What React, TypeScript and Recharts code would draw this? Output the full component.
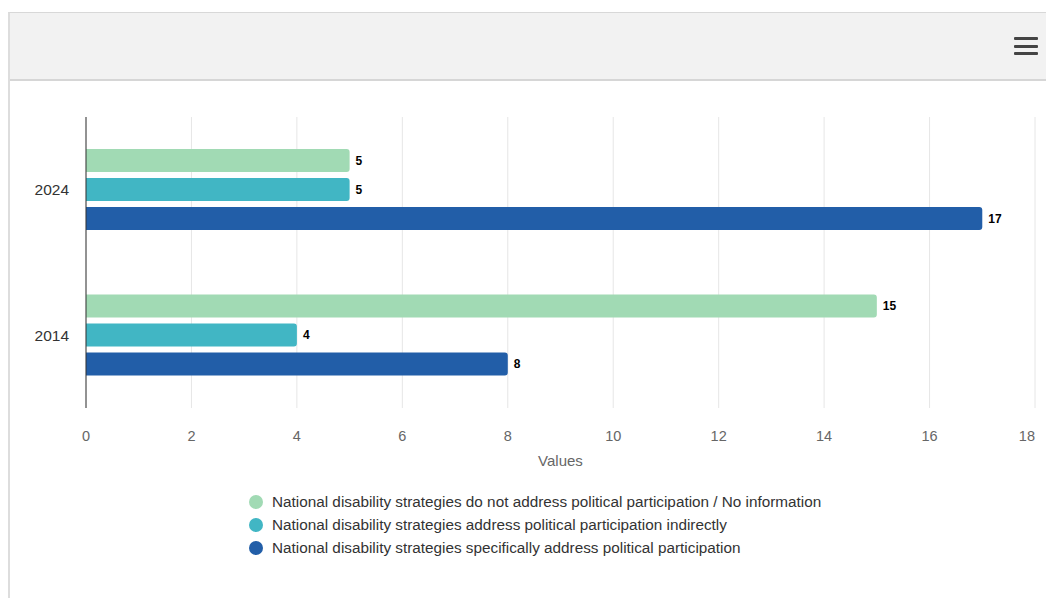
import { Bar, BarChart, CartesianGrid, LabelList, XAxis, YAxis } from "recharts";

const years = ["2024", "2014"];
const noInfo = [5, 15];
const indirect = [5, 4];
const specific = [17, 8];
const xTicks = [0, 2, 4, 6, 8, 10, 12, 14, 16, 18];

const seriesNames = [
  "National disability strategies do not address political participation / No information",
  "National disability strategies address political participation indirectly",
  "National disability strategies specifically address political participation",
];
const seriesKeys = ["noInfo", "indirect", "specific"];
const seriesColors = ["#a1dab4", "#41b6c4", "#225ea8"];

const data = years.map((year, i) => ({
  year,
  noInfo: noInfo[i],
  indirect: indirect[i],
  specific: specific[i],
}));

const font = "'Liberation Sans', Arial, Helvetica, sans-serif";

// last label is kept inside the plot, like the original
function XTick(props: any) {
  const { x, y, payload } = props;
  const last = payload.value === xTicks[xTicks.length - 1];
  return (
    <text
      x={x}
      y={y}
      dy="0.71em"
      textAnchor={last ? "end" : "middle"}
      fill="#666666"
      fontSize={14.5}
      fontFamily={font}
    >
      {payload.value}
    </text>
  );
}

export default function App() {
  return (
    <div
      style={{
        position: "fixed",
        top: 0,
        left: 0,
        width: 1046,
        height: 598,
        overflow: "hidden",
        background: "#fff",
        fontFamily: font,
      }}
    >
      {/* frame + header bar */}
      <div
        style={{
          position: "absolute",
          left: 8,
          top: 12,
          width: 1060,
          height: 600,
          borderLeft: "2px solid #dddddd",
          borderTop: "1px solid #d8d8d8",
        }}
      />
      <div
        style={{
          position: "absolute",
          left: 10,
          top: 13,
          width: 1040,
          height: 66,
          background: "#f2f2f2",
          borderBottom: "2px solid #d6d6d6",
        }}
      />
      {[37, 45, 52].map((y) => (
        <div
          key={y}
          style={{
            position: "absolute",
            left: 1014,
            top: y,
            width: 24,
            height: 3,
            borderRadius: 1,
            background: "#444",
          }}
        />
      ))}

      <div style={{ position: "absolute", left: 0, top: 80 }}>
        <BarChart
          width={1046}
          height={518}
          data={data}
          layout="vertical"
          margin={{ top: 37, right: 11, bottom: 129, left: 0 }}
          barSize={23}
          barGap={6}
        >
          <CartesianGrid horizontal={false} stroke="#e6e6e6" />
          <XAxis
            type="number"
            domain={[0, 18]}
            ticks={xTicks}
            axisLine={false}
            tickLine={false}
            tickSize={0}
            tickMargin={23}
            height={61}
            tick={<XTick />}
            label={{
              value: "Values",
              position: "insideBottom",
              offset: 3,
              fill: "#666666",
              fontSize: 15,
              fontFamily: font,
            }}
          />
          <YAxis
            type="category"
            dataKey="year"
            width={86}
            axisLine={{ stroke: "#333333" }}
            tickLine={false}
            tickSize={0}
            tickMargin={17}
            tick={{ fill: "#333333", fontSize: 15.5, fontFamily: font }}
          />
          {seriesKeys.map((key, i) => (
            <Bar
              key={key}
              dataKey={key}
              name={seriesNames[i]}
              fill={seriesColors[i]}
              radius={[0, 3, 3, 0]}
              isAnimationActive={false}
            >
              <LabelList
                dataKey={key}
                position="right"
                offset={6}
                fill="#000"
                fontSize={12}
                fontWeight="bold"
                fontFamily={font}
              />
            </Bar>
          ))}
        </BarChart>
      </div>

      {/* legend */}
      <div style={{ position: "absolute", left: 249, top: 490 }}>
        {seriesNames.map((name, i) => (
          <div
            key={name}
            style={{
              display: "flex",
              alignItems: "center",
              height: 23,
              fontSize: 15.3,
              color: "#333333",
              whiteSpace: "nowrap",
            }}
          >
            <span
              style={{
                display: "inline-block",
                width: 14,
                height: 14,
                borderRadius: "50%",
                background: seriesColors[i],
                marginRight: 9,
              }}
            />
            {name}
          </div>
        ))}
      </div>
    </div>
  );
}
